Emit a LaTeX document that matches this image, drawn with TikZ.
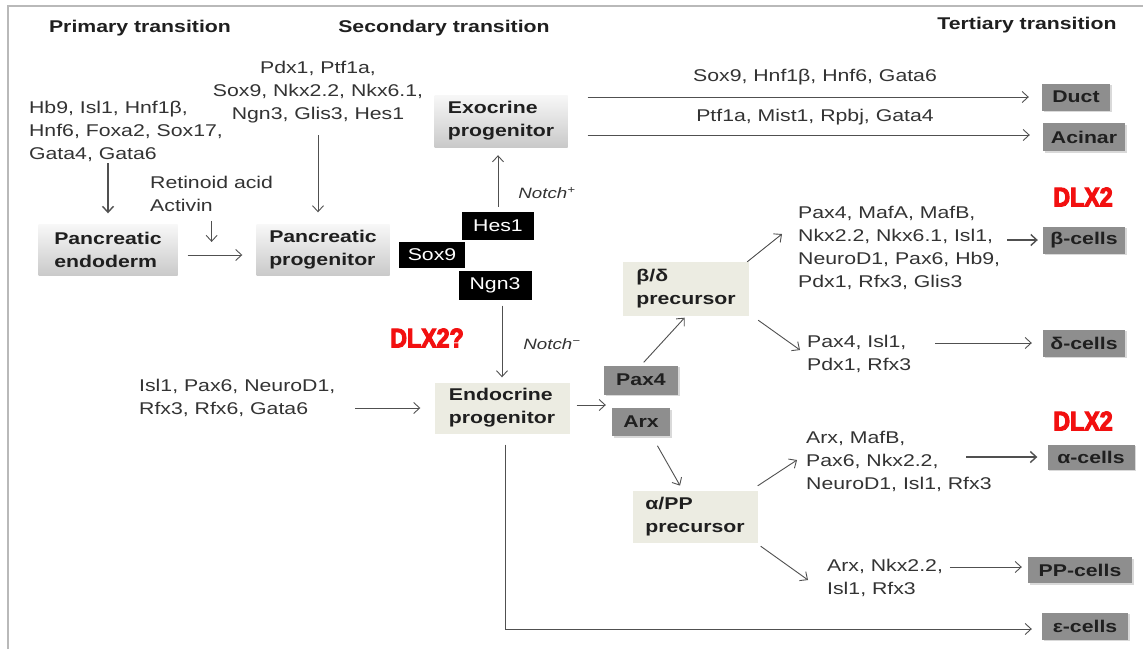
\documentclass[tikz,border=0pt]{standalone}
\usepackage{fontspec}
\setmainfont{Liberation Sans}[FakeStretch=1.25]
\newfontfamily\dlxfont{Liberation Sans}[FakeStretch=0.86, BoldFeatures={FakeBold=4}]
\usetikzlibrary{arrows.meta, shadows}
\definecolor{txtc}{HTML}{333333}
\definecolor{cellc}{HTML}{8E8E8E}
\definecolor{prec}{HTML}{ECECE2}
\definecolor{linec}{HTML}{505050}
\definecolor{dlxred}{HTML}{F21010}
\tikzset{
  txt/.style={inner sep=0pt, text=txtc, font=\fontsize{17}{23}\selectfont},
  ttl/.style={inner sep=0pt, text=black!88, font=\fontsize{17}{20}\selectfont\bfseries},
  boxtext/.style={font=\fontsize{17}{23}\selectfont\bfseries, text=black!88, align=left, inner sep=0pt},
  gradbox/.style={boxtext, top color=gray!6, bottom color=gray!42},
  precbox/.style={boxtext, fill=prec},
  blk/.style={fill=black, text=white, font=\fontsize{17}{20}\selectfont, inner sep=0pt},
  cellbox/.style={fill=cellc, font=\fontsize{17}{20}\selectfont\bfseries, text=black!88, inner sep=0pt,
    drop shadow={shadow xshift=1.5pt, shadow yshift=-1.5pt, fill=gray!30, opacity=1}},
  arr/.style={draw=linec, line width=0.9pt, -{Straight Barb[length=6pt,width=11pt]}},
  arrT/.style={arr, line width=1.4pt},
  dlx/.style={text=dlxred, font=\dlxfont\fontsize{27}{27}\selectfont\bfseries, inner sep=0pt},
  notch/.style={text=txtc, font=\fontsize{15}{18}\selectfont\itshape, inner sep=0pt},
}
\begin{document}
\begin{tikzpicture}[x=1pt, y=-1pt]
\useasboundingbox (0,0) rectangle (1143,649);
\fill[white] (0,0) rectangle (1143,649);
\draw[gray!55, line width=1.5pt] (8,649) -- (8,6) -- (1143,6);

% titles
\node[ttl] (t1) at (140,28) {Primary transition};
\node[ttl] (t2) at (444,28) {Secondary transition};
\node[ttl] (t3) at (1027,25) {Tertiary transition};

% left part
\node[txt, align=left] (hb9) at (126,131) {Hb9, Isl1, Hnf1β,\\Hnf6, Foxa2, Sox17,\\Gata4, Gata6};
\node[txt, align=center] (pdx) at (318,92) {Pdx1, Ptf1a,\\Sox9, Nkx2.2, Nkx6.1,\\Ngn3, Glis3, Hes1};
\node[txt, align=left, anchor=west] (ra) at (150,194) {Retinoid acid\\Activin};

\node[gradbox, minimum width=139, minimum height=51] (endo) at (108,250) {Pancreatic\\endoderm};
\node[gradbox, minimum width=133, minimum height=51] (prog) at (323,250) {Pancreatic\\progenitor};
\node[gradbox, minimum width=133, minimum height=52] (exo) at (501,121) {Exocrine\\progenitor};

\node[blk, minimum width=72, minimum height=28] (hes) at (498,226) {Hes1};
\node[blk, minimum width=66, minimum height=26] (sox) at (432,255) {Sox9};
\node[blk, minimum width=73, minimum height=29] (ngn) at (495,285) {Ngn3};

\node[notch] (np) at (547,193) {Notch\textsuperscript{+}};
\node[notch] (nm) at (552,344) {Notch\textsuperscript{−}};
\node[dlx] (dq) at (427,338) {DLX2?};

\node[precbox, minimum width=135, minimum height=51] (endoc) at (502,408) {Endocrine\\progenitor};
\node[txt, align=left, anchor=west] (isl) at (139,398) {Isl1, Pax6, NeuroD1,\\Rfx3, Rfx6, Gata6};

\node[cellbox, minimum width=74, minimum height=29] (pax) at (641,380) {Pax4};
\node[cellbox, minimum width=58, minimum height=28] (arx) at (641,422) {Arx};

\node[precbox, minimum width=126, minimum height=54] (bd) at (686,289) {β/δ\\precursor};
\node[precbox, minimum width=125, minimum height=52] (ap) at (695,517) {α/PP\\precursor};

% right texts
\node[txt] (ducttxt) at (815,77) {Sox9, Hnf1β, Hnf6, Gata6};
\node[txt] (acintxt) at (815,117) {Ptf1a, Mist1, Rpbj, Gata4};
\node[txt, align=left, anchor=west] (btxt) at (798,248) {Pax4, MafA, MafB,\\Nkx2.2, Nkx6.1, Isl1,\\NeuroD1, Pax6, Hb9,\\Pdx1, Rfx3, Glis3};
\node[txt, align=left, anchor=west] (dtxt) at (807,354) {Pax4, Isl1,\\Pdx1, Rfx3};
\node[txt, align=left, anchor=west] (atxt) at (806,461) {Arx, MafB,\\Pax6, Nkx2.2,\\NeuroD1, Isl1, Rfx3};
\node[txt, align=left, anchor=west] (pptxt) at (827,578) {Arx, Nkx2.2,\\Isl1, Rfx3};

% cells
\node[cellbox, minimum width=68, minimum height=27] (duct) at (1076,97) {Duct};
\node[cellbox, minimum width=82, minimum height=28] (acin) at (1084,137) {Acinar};
\node[cellbox, minimum width=82, minimum height=27] (bcell) at (1084,240) {β-cells};
\node[cellbox, minimum width=82, minimum height=27] (dcell) at (1084,343) {δ-cells};
\node[cellbox, minimum width=87, minimum height=25] (acell) at (1091,457) {α-cells};
\node[cellbox, minimum width=104, minimum height=26] (ppcell) at (1080,570) {PP-cells};
\node[cellbox, minimum width=86, minimum height=27] (ecell) at (1085,626) {ε-cells};

\node[dlx] (d1) at (1083,197) {DLX2};
\node[dlx] (d2) at (1083,421) {DLX2};

% arrows
\draw[arrT, shorten <=2pt, shorten >=11pt] (endo.north |- hb9.south) -- (endo.north);
\draw[arr, shorten <=12pt, shorten >=12pt] (pdx.south) -- (pdx.south |- prog.north);
\draw[arr] ([yshift=-9pt]ra.south) -- ++(0,21);
\draw[arr, shorten <=10pt, shorten >=14pt] ([yshift=-5pt]endo.east) -- ([yshift=-5pt]prog.west);
\draw[arr, shorten <=5pt, shorten >=8pt] (hes.north) -- (hes.north |- exo.south);
\draw[arr, shorten <=6pt, shorten >=5pt] (endoc.north |- ngn.south) -- (endoc.north);
\draw[arr, shorten <=20pt, shorten >=14pt] (isl.east |- endoc.west) -- (endoc.west);
\draw[arr, shorten <=7pt, shorten >=-2pt] ([yshift=3pt]endoc.east) -- ([yshift=3pt]endoc.east -| pax.west);
\draw[arr, shorten <=4pt, shorten >=2pt] (pax.north) -- (bd.south);
\draw[arr, shorten <=11pt, shorten >=6pt] ([xshift=11pt]arx.south) -- ([xshift=-12pt]ap.north);
\draw[arr] ([xshift=-2pt]bd.north east) -- ([shift={(-16pt,14pt)}]btxt.west);
\draw[arr] ([shift={(9pt,-4pt)}]bd.south east) -- ([shift={(-7pt,4pt)}]dtxt.west);
\draw[arr] ([yshift=5pt]ap.north east) -- ([shift={(-9pt,1pt)}]atxt.west);
\draw[arr] ([shift={(3pt,-3pt)}]ap.south east) -- ([shift={(-19pt,-2pt)}]pptxt.west);

\draw[arr, shorten <=20pt, shorten >=13pt] (exo.east |- duct.west) -- (duct.west);
\draw[arr, shorten <=20pt, shorten >=13pt] ([yshift=2pt]exo.east |- acin.west) -- ([yshift=2pt]acin.west);
\draw[arrT, shorten <=7pt, shorten >=5pt] (btxt.east |- bcell.west) -- (bcell.west);
\draw[arr, shorten <=24pt, shorten >=11pt] (dtxt.east |- dcell.west) -- (dcell.west);
\draw[arrT] ([xshift=-81pt]acell.west) -- ([xshift=-10pt]acell.west);
\draw[arr] ([shift={(-78pt,3pt)}]ppcell.west) -- ([shift={(-6pt,3pt)}]ppcell.west);
\draw[arr, shorten >=10pt] ([xshift=3pt,yshift=-11pt]endoc.south) |- ([yshift=-3pt]ecell.west);
\end{tikzpicture}
\end{document}
